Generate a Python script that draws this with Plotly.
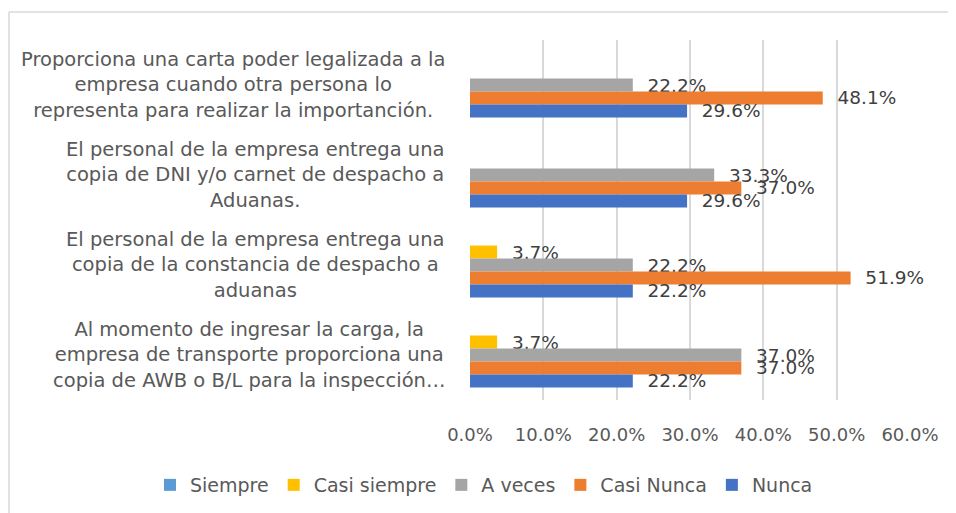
import plotly.graph_objects as go

categories = [
    "Proporciona una carta poder legalizada a la<br>empresa cuando otra persona lo<br>representa para realizar la importanción.",
    "El personal de la empresa entrega una<br>copia de DNI y/o carnet de despacho a<br>Aduanas.",
    "El personal de la empresa entrega una<br>copia de la constancia de despacho a<br>aduanas",
    "Al momento de ingresar la carga, la<br>empresa de transporte proporciona una<br>copia de AWB o B/L para la inspección…",
]
series_names = ["Siempre", "Casi siempre", "A veces", "Casi Nunca", "Nunca"]
siempre = [0.0, 0.0, 0.0, 0.0]
casi_siempre = [0.0, 0.0, 0.037, 0.037]
a_veces = [0.222, 0.333, 0.222, 0.370]
casi_nunca = [0.481, 0.370, 0.519, 0.370]
nunca = [0.296, 0.296, 0.222, 0.222]
x_ticks = [0.0, 0.1, 0.2, 0.3, 0.4, 0.5, 0.6]

series_values = [siempre, casi_siempre, a_veces, casi_nunca, nunca]
colors = ["#5B9BD5", "#FFC000", "#A5A5A5", "#ED7D31", "#4472C4"]

FONT = "DejaVu Sans, Verdana, sans-serif"
NB = "\u00a0"

fig = go.Figure()
for name, vals, col in zip(series_names, series_values, colors):
    fig.add_trace(go.Bar(
        y=categories, x=vals, name=name, orientation="h",
        marker=dict(color=col, line=dict(width=0)),
        text=[(NB * 2 + f"{v:.1%}") if v > 0 else "" for v in vals],
        textposition="outside", constraintext="none", cliponaxis=False,
        textfont=dict(family=FONT, size=18.5, color="#404040"),
        hoverinfo="skip",
    ))

# page body has an 8px offset; keep the figure inside the window
OFF = 8
W, H = 948, 505
L, T = 470 - OFF, 40 - OFF
R, B = W - (910 - OFF), H - (400 - OFF)
pw, ph = W - L - R, H - T - B

annotations = []
for c in categories:
    annotations.append(dict(
        x=(447 - OFF - L) / pw, xref="paper", y=c, yref="y",
        text=c, showarrow=False, xanchor="right", yanchor="middle", align="center",
        font=dict(family=FONT, size=19.5, color="#595959"),
    ))

bx0 = (9 - OFF - L) / pw
by1 = 1 + (T - (12 - OFF)) / ph
border = dict(color="#D9D9D9", width=1.5)

fig.update_layout(
    width=W, height=H,
    margin=dict(l=L, r=R, t=T, b=B, autoexpand=False),
    barmode="group", bargap=0.278, bargroupgap=0,
    plot_bgcolor="white", paper_bgcolor="white",
    xaxis=dict(range=[0, 0.6], tickvals=x_ticks, tickformat=".1%",
               showgrid=True, gridcolor="#D9D9D9", gridwidth=1.5, zeroline=False,
               showline=False, ticks="", ticklabelstandoff=22,
               tickfont=dict(family=FONT, size=18, color="#595959")),
    yaxis=dict(autorange="reversed", showticklabels=False, showgrid=False,
               zeroline=False, showline=False, ticks=""),
    legend=dict(orientation="h", xref="paper", yref="paper",
                x=(150 - OFF - L) / pw, xanchor="left",
                y=-(485 - OFF - T - ph) / ph, yanchor="middle",
                font=dict(family=FONT, size=19, color="#595959"),
                itemclick=False, traceorder="normal"),
    annotations=annotations,
    shapes=[
        dict(type="line", xref="paper", yref="paper", x0=bx0, x1=(W + 40 - L) / pw,
             y0=by1, y1=by1, line=border, layer="below"),
        dict(type="line", xref="paper", yref="paper", x0=bx0, x1=bx0,
             y0=by1, y1=-(H + 40 - T - ph) / ph, line=border, layer="below"),
    ],
    showlegend=True,
)

fig.write_html("out.html")
